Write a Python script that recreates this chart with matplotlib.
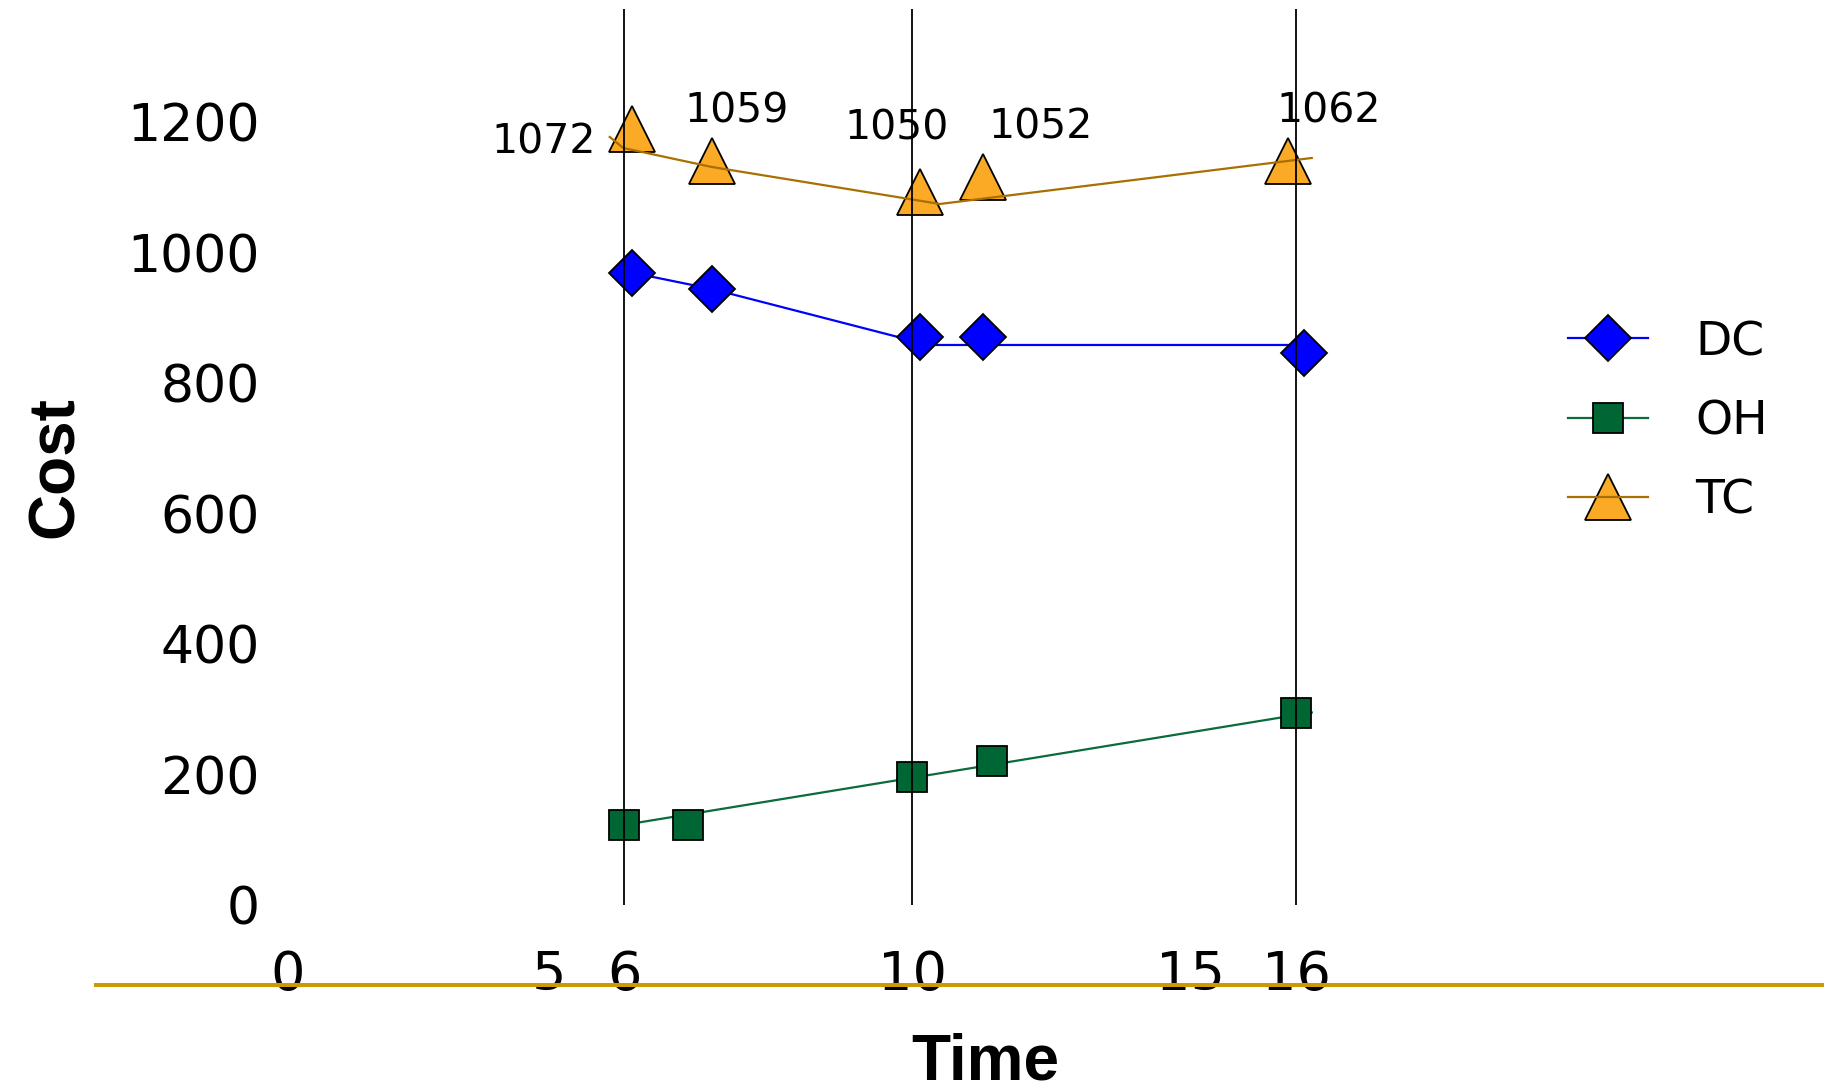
import numpy as np
import matplotlib
matplotlib.use("Agg")
import matplotlib.pyplot as plt
from matplotlib.lines import Line2D

# the time axis in the original is not evenly spaced, so it gets a piecewise scale
axis_times = [-4, 0, 5, 6, 10, 15, 16, 24]
axis_pixels = [96, 288, 549, 624, 912, 1191, 1296, 1822]

x_ticks = [0, 5, 6, 10, 15, 16]
y_ticks = [0, 200, 400, 600, 800, 1000, 1200]
event_times = [6, 10, 16]
event_top = 1374

dc_time = [6.11, 7.22, 10.14, 11.28, 16.12]
dc_cost = [969.8, 944.8, 871.7, 871.7, 847.2]
dc_line_time = [6.11, 7.22, 9.79, 10.14, 16.24]
dc_line_cost = [969.8, 944.8, 871.7, 859.0, 859.0]

oh_time = [6.0, 6.89, 10.0, 11.43, 16.0]
oh_cost = [123.7, 123.7, 197.2, 221.8, 295.3]
oh_line_time = [6.0, 16.24]
oh_line_cost = [123.5, 295.8]

tc_time = [6.11, 7.22, 10.14, 11.28, 15.92]
tc_cost = [1190.5, 1141.3, 1092.7, 1117.2, 1141.3]
tc_line_time = [5.81, 5.99, 7.22, 10.5, 16.24]
tc_line_cost = [1177.8, 1160.9, 1131.8, 1075.1, 1145.6]
tc_labels = ["1072", "1059", "1050", "1052", "1062"]

DC_COLOR = "#0000FF"
OH_FILL = "#006633"
OH_LINE = "#0B6B3A"
TC_FILL = "#FBAA25"
TC_LINE = "#A87000"
AXIS_GOLD = "#CC9900"


def forward(t):
    return np.interp(t, axis_times, axis_pixels)


def inverse(p):
    return np.interp(p, axis_pixels, axis_times)


fig = plt.figure(figsize=(18.28, 10.86), dpi=100)
ax = fig.add_axes([96 / 1828, 101.3 / 1086, 1726 / 1828, 984.7 / 1086])
ax.set_xscale("function", functions=(forward, inverse))
ax.set_xlim(-4, 24)
ax.set_ylim(-121.4, 1387.7)

# lines
ax.plot(dc_line_time, dc_line_cost, color=DC_COLOR, lw=1.6, zorder=2)
ax.plot(oh_line_time, oh_line_cost, color=OH_LINE, lw=1.6, zorder=2)

# markers
ax.plot(dc_time, dc_cost, ls="none", marker="D", ms=23, mfc=DC_COLOR,
        mec="black", mew=1.3, zorder=3)
ax.plot(oh_time, oh_cost, ls="none", marker="s", ms=22, mfc=OH_FILL,
        mec="black", mew=1.3, zorder=3)
ax.plot(tc_time, tc_cost, ls="none", marker="^", ms=33, mfc=TC_FILL,
        mec="black", mew=1.3, zorder=3)
ax.plot(tc_line_time, tc_line_cost, color=TC_LINE, lw=1.6, zorder=4)

ax.vlines(event_times, 0, event_top, color="black", lw=1.3, zorder=5)

label_offsets = [(-25.9, -18.2), (17.8, 27.7), (-16.6, 38.5), (40.9, 27.5), (29.4, 27.7)]
for t, c, txt, off in zip(tc_time, tc_cost, tc_labels, label_offsets):
    ax.annotate(txt, xy=(t, c), xytext=off, textcoords="offset points",
                ha="right" if off[0] < -20 else "center", va="baseline",
                fontsize=29.5, color="black", zorder=6)

ax.set_xticks(x_ticks)
ax.set_xticklabels([str(v) for v in x_ticks])
ax.set_yticks(y_ticks)
ax.set_yticklabels([str(v) for v in y_ticks])
ax.tick_params(axis="x", length=0, pad=-25.5, labelsize=39)
ax.tick_params(axis="y", length=0, pad=0, labelsize=37.5)

for s in ["top", "right"]:
    ax.spines[s].set_visible(False)
ax.spines["left"].set_position(("axes", 0.095))
ax.spines["left"].set_visible(False)
ax.spines["bottom"].set_color(AXIS_GOLD)
ax.spines["bottom"].set_linewidth(2.9)

fig.text(985 / 1828, 1 - 1080 / 1086, "Time", ha="center", va="baseline",
         fontsize=46, fontweight="bold", family="Liberation Sans")
fig.text(55.7 / 1828, 1 - 467 / 1086, "Cost", ha="center", va="center",
         rotation=90, fontsize=46, fontweight="bold", family="Liberation Sans")

dc_handle = Line2D([], [], color=DC_COLOR, lw=1.6, marker="D", ms=23,
                   mfc=DC_COLOR, mec="black", mew=1.3)
oh_handle = Line2D([], [], color=OH_LINE, lw=1.6, marker="s", ms=22,
                   mfc=OH_FILL, mec="black", mew=1.3)
tc_marker = Line2D([], [], ls="none", marker="^", ms=33, mfc=TC_FILL,
                   mec="black", mew=1.3)
tc_stroke = Line2D([], [], color=TC_LINE, lw=1.6)
ax.legend([dc_handle, oh_handle, (tc_marker, tc_stroke)], ["DC", "OH", "TC"],
          loc="upper left", bbox_to_anchor=(1568 / 1828, 1 - 320 / 1086),
          bbox_transform=fig.transFigure, frameon=False, fontsize=34,
          handlelength=1.69, handletextpad=1.0, labelspacing=0.73,
          borderpad=0, borderaxespad=0)

fig.savefig("out.png", dpi=100)
